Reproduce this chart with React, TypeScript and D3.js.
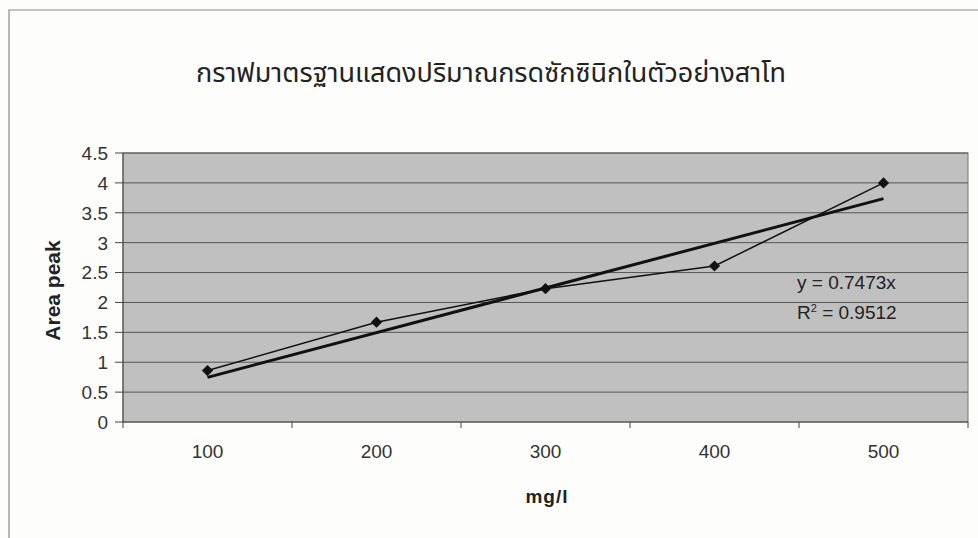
import React from "react";
import * as d3 from "d3";

const categories = ["100", "200", "300", "400", "500"];
const areaPeak = [0.86, 1.67, 2.23, 2.61, 4.0];
const trendSlope = 0.7473;
const yTicks = [0, 0.5, 1, 1.5, 2, 2.5, 3, 3.5, 4, 4.5];
const titleText = "กราฟมาตรฐานแสดงปริมาณกรดซักซินิกในตัวอย่างสาโท";
const eqLine1 = "y = 0.7473x";
const eqR2Value = " = 0.9512";

export default function App() {
  const W = 978, H = 538;
  const left = 123, right = 968, top = 153, bottom = 422;
  const x = d3.scaleBand<string>().domain(categories).range([left, right]).padding(0);
  const y = d3.scaleLinear().domain([0, 4.5]).range([bottom, top]);
  const cx = (c: string) => (x(c) as number) + x.bandwidth() / 2;
  const line = d3.line<number>().x((_, i) => cx(categories[i])).y((d) => y(d));
  const trend = [1, categories.length].map((k) => ({ c: categories[k - 1], v: trendSlope * k }));
  const font = "Arial, 'Liberation Sans', Helvetica, sans-serif";
  const boundaries = categories.map((c) => x(c) as number).concat([right]);
  const diamond = d3.symbol().type(d3.symbolDiamond2).size(80)();

  return (
    <svg width={W} height={H} style={{ position: "absolute", left: 0, top: 0 }}>
      <rect x={0} y={0} width={W} height={H} fill="#fdfdfb" />
      <path d={`M9,${H} L9,10 L${W},10`} fill="none" stroke="#8a8a8a" strokeWidth={1.2} />
      <text x={491} y={82} textAnchor="middle" fontFamily="'Noto Sans Thai', 'Tahoma', 'DejaVu Sans', sans-serif" fontSize={27} fill="#222">
        {titleText}
      </text>
      <rect x={left} y={top} width={right - left} height={bottom - top} fill="#c0c0c0" stroke="#777" strokeWidth={1} />
      {yTicks.map((t) => (
        <g key={t}>
          {t > 0 && <line x1={left} x2={right} y1={y(t)} y2={y(t)} stroke="#555" strokeWidth={1} />}
          <line x1={left - 8} x2={left} y1={y(t)} y2={y(t)} stroke="#444" strokeWidth={1} />
          <text x={left - 15} y={y(t)} dy="0.36em" textAnchor="end" fontFamily={font} fontSize={19} fill="#333">
            {t}
          </text>
        </g>
      ))}
      <line x1={left} x2={left} y1={top} y2={bottom} stroke="#444" strokeWidth={1} />
      <line x1={left} x2={right} y1={bottom} y2={bottom} stroke="#444" strokeWidth={1.2} />
      {boundaries.map((b, i) => (
        <line key={i} x1={b} x2={b} y1={bottom} y2={bottom + 6} stroke="#444" strokeWidth={1} />
      ))}
      {categories.map((c) => (
        <text key={c} x={cx(c)} y={458} textAnchor="middle" fontFamily={font} fontSize={19} fill="#333">
          {c}
        </text>
      ))}
      <line
        x1={cx(trend[0].c)}
        y1={y(trend[0].v)}
        x2={cx(trend[1].c)}
        y2={y(trend[1].v)}
        stroke="#111"
        strokeWidth={3}
      />
      <path d={line(areaPeak) as string} fill="none" stroke="#111" strokeWidth={1.5} />
      {areaPeak.map((v, i) => (
        <path key={i} d={diamond as string} transform={`translate(${cx(categories[i])},${y(v)})`} fill="#111" />
      ))}
      <text x={797} y={289} fontFamily={font} fontSize={19} fill="#222">
        {eqLine1}
      </text>
      <text x={797} y={319} fontFamily={font} fontSize={19} fill="#222">
        R<tspan dy={-7} fontSize={11}>2</tspan>
        <tspan dy={7}>{eqR2Value}</tspan>
      </text>
      <text
        transform={`translate(60,${(top + bottom) / 2 + 3}) rotate(-90)`}
        textAnchor="middle"
        fontFamily={font}
        fontSize={21}
        fontWeight="bold"
        fill="#222"
      >
        Area peak
      </text>
      <text x={547} y={503} textAnchor="middle" fontFamily={font} fontSize={19} fontWeight="bold" letterSpacing={1} fill="#222">
        mg/l
      </text>
    </svg>
  );
}
